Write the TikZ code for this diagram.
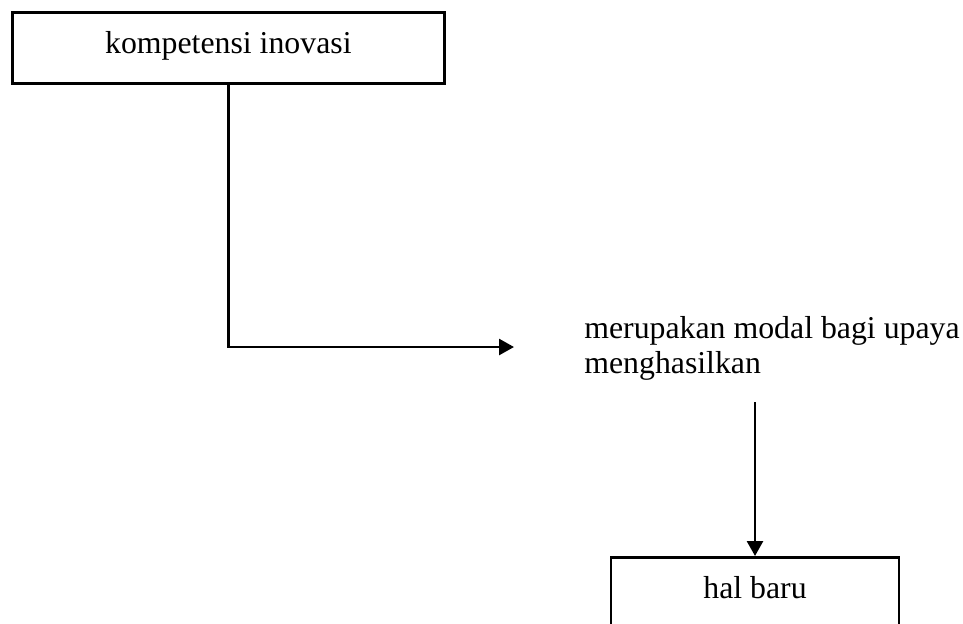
\documentclass[tikz,border=0pt]{standalone}
\usepackage{fontspec}
\setmainfont{Liberation Serif}
\usetikzlibrary{arrows.meta, positioning}

\begin{document}
\begin{tikzpicture}[x=0.5pt, y=-0.5pt, line width=1.35pt,
  kotak/.style={draw, inner sep=0pt, minimum width=#1},
  panah/.style={-{Triangle[length=7.5pt, width=8pt]}},
  font=\fontsize{15.9}{17.5}\selectfont]
\useasboundingbox (0,0) rectangle (963,623);
\clip (0,0) rectangle (963,623);
\node[kotak=216pt, text height=20.5pt, text depth=15pt, anchor=north west] (kom) at (11,11) {kompetensi inovasi};
\node[anchor=base west, align=left, inner sep=0pt] (mid) at (583,373) {merupakan modal bagi upaya\\menghasilkan};
\node[kotak=144pt, text height=20.5pt, text depth=40pt, anchor=north] (hal) at (755,556) {hal baru};
\coordinate (ujung) at (514,347);
\draw[panah] (kom.south) |- (ujung);
\draw[panah] ([yshift=-10.5pt]hal.north |- mid.south) -- (hal.north);
\end{tikzpicture}
\end{document}
